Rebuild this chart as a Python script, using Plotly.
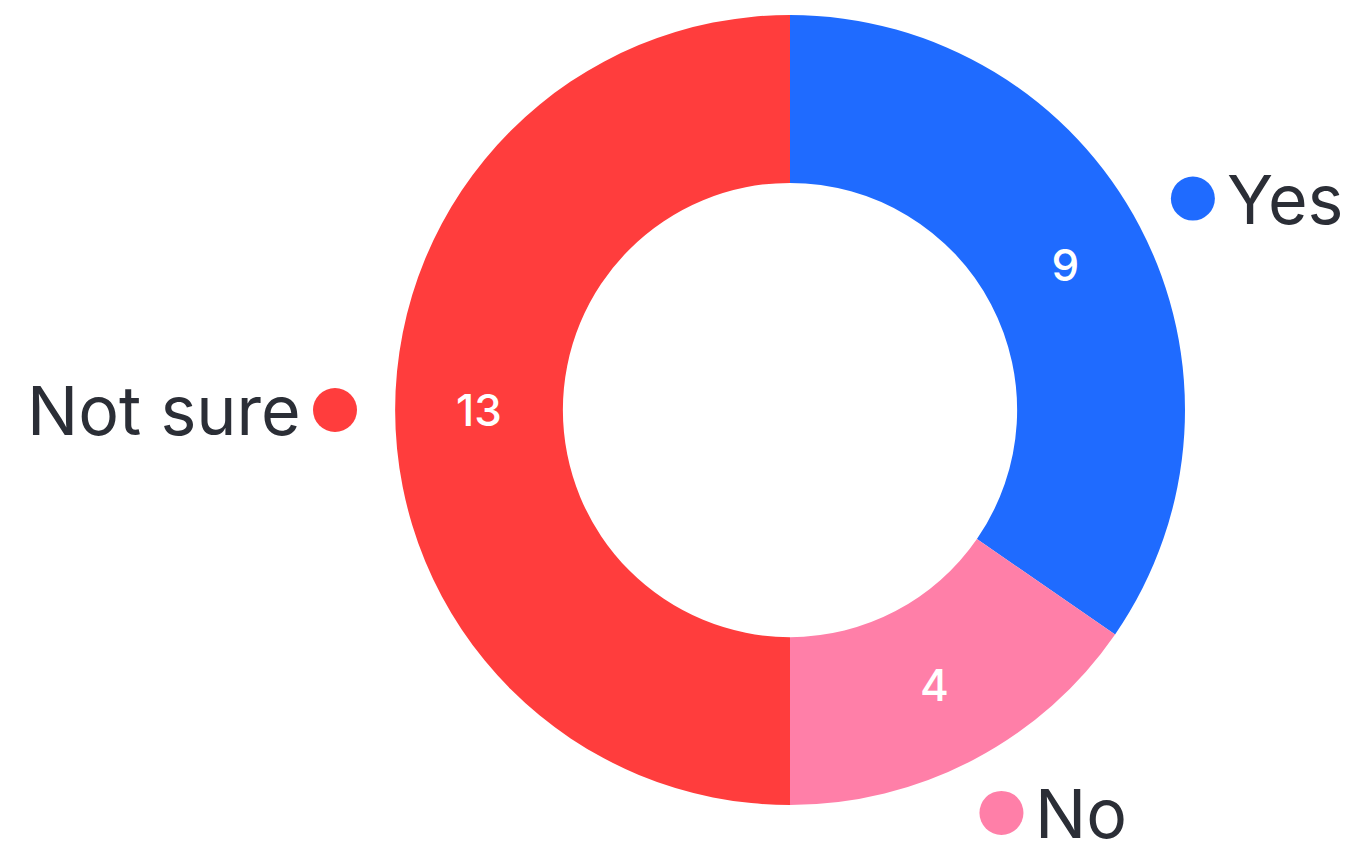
import math
import plotly.graph_objects as go

# Survey answers
labels = ["Yes", "No", "Not sure"]
values = [9, 4, 13]
colors = ["#1F6BFF", "#FF7FA8", "#FF3D3D"]

W, H = 1352, 847
# Donut geometry in pixels (from top-left)
CX, CY = 790, 410
R_OUT = 395
HOLE = 0.575
R_DOT = 455          # radius at which the outer label dots sit
DOT_SIZE = 44
TEXT_GAP = 32        # distance from dot centre to label text

fig = go.Figure()

fig.add_trace(go.Pie(
    labels=labels,
    values=values,
    marker=dict(colors=colors, line=dict(width=0)),
    hole=HOLE,
    sort=False,
    direction="clockwise",
    rotation=0,
    textinfo="value",
    textposition="inside",
    insidetextorientation="horizontal",
    textfont=dict(family="Inter", size=44, color="white", weight=500),
    showlegend=False,
    hoverinfo="label+value",
    domain=dict(
        x=[(CX - R_OUT) / W, (CX + R_OUT) / W],
        y=[1 - (CY + R_OUT) / H, 1 - (CY - R_OUT) / H],
    ),
))

# Outer labels: a dot on each slice's mid-angle, with the name beside it
total = sum(values)
cum = 0
dot_x, dot_y = [], []
annotations = []
for lab, val, col in zip(labels, values, colors):
    mid = (cum + val / 2) / total * 2 * math.pi
    cum += val
    x = CX + R_DOT * math.sin(mid)
    y = CY - R_DOT * math.cos(mid)
    dot_x.append(x)
    dot_y.append(y)
    right_side = math.sin(mid) >= 0
    annotations.append(dict(
        x=x + (TEXT_GAP if right_side else -TEXT_GAP),
        y=y,
        xref="x", yref="y",
        text=lab,
        showarrow=False,
        xanchor="left" if right_side else "right",
        yanchor="middle",
        height=66,
        valign="middle",
        font=dict(family="Inter", size=68, color="#2B2E36"),
    ))

fig.add_trace(go.Scatter(
    x=dot_x, y=dot_y,
    mode="markers",
    marker=dict(size=DOT_SIZE, color=colors, line=dict(width=0)),
    showlegend=False,
    hoverinfo="skip",
))

fig.update_layout(
    width=W, height=H,
    margin=dict(l=0, r=0, t=0, b=0),
    paper_bgcolor="white",
    plot_bgcolor="rgba(0,0,0,0)",
    xaxis=dict(range=[0, W], visible=False, domain=[0, 1], fixedrange=True),
    yaxis=dict(range=[H, 0], visible=False, domain=[0, 1], fixedrange=True),
    annotations=annotations,
)

fig.write_html("out.html")
